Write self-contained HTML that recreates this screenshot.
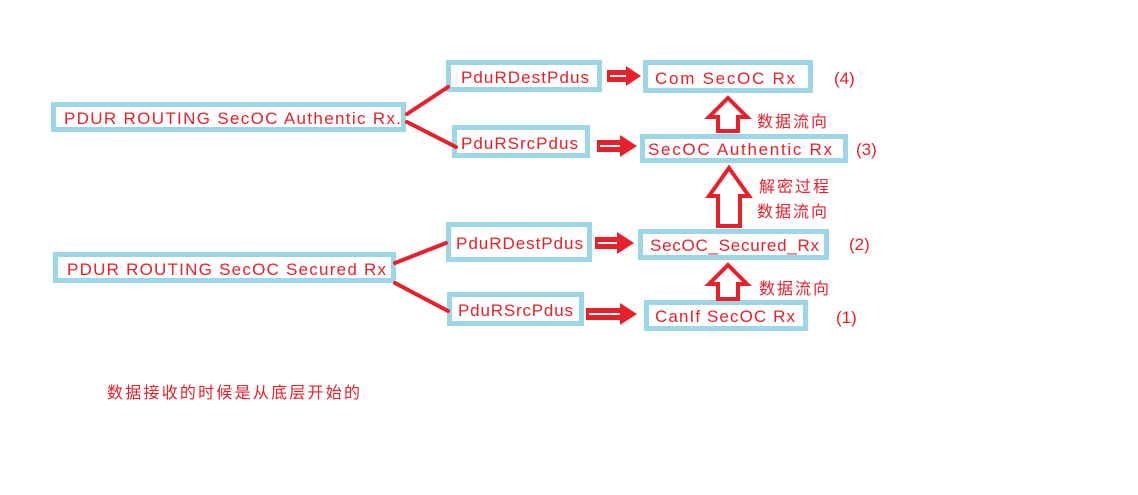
<!DOCTYPE html>
<html><head><meta charset="utf-8"><style>
html,body{margin:0;padding:0;background:#fff;}
svg text{font-family:"Liberation Sans","Noto Sans CJK SC",sans-serif;fill:#e8202a;font-size:17px;}
svg text.c{font-size:16px;}
</style></head><body>
<svg width="1138" height="490" xmlns="http://www.w3.org/2000/svg">
<g fill="#fff" stroke="#9dd6e6" stroke-width="5">
<rect x="53.5" y="104.5" width="350" height="25"/>
<rect x="448.5" y="62.5" width="151" height="27"/>
<rect x="454.5" y="127.5" width="133" height="28"/>
<rect x="645.5" y="62.5" width="165" height="28"/>
<rect x="642.5" y="136.5" width="203" height="24"/>
<rect x="640.5" y="231.5" width="186" height="26"/>
<rect x="646.5" y="302.5" width="159" height="26"/>
<rect x="55.5" y="254.5" width="338" height="26"/>
<rect x="448.5" y="224.5" width="141" height="35"/>
<rect x="449.5" y="294.5" width="132" height="29"/>
</g>
<g stroke="#e8202a" stroke-width="4" stroke-linecap="round">
<line x1="407" y1="114" x2="448" y2="87"/>
<line x1="407" y1="122" x2="456" y2="147"/>
<line x1="395" y1="263" x2="446" y2="243"/>
<line x1="395" y1="283" x2="448" y2="311"/>
</g>
<g fill="#e8202a">
<polygon points="607,70 626,70 626,66 641,76 626,86 626,82 607,82"/>
<polygon points="597,140 620,140 620,135 637,146 620,157 620,152 597,152"/>
<polygon points="595,237 617,237 617,232 634,243 617,254 617,249 595,249"/>
<polygon points="586,308 620,308 620,303 637,314 620,325 620,320 586,320"/>
</g>
<g stroke="#fff" stroke-width="2">
<line x1="610" y1="76" x2="626" y2="76"/>
<line x1="600" y1="146" x2="620" y2="146"/>
<line x1="598" y1="243" x2="617" y2="243"/>
<line x1="589" y1="314" x2="620" y2="314"/>
</g>
<g fill="#fff" stroke="#e8202a" stroke-width="4" stroke-linejoin="miter">
<polygon points="728,98 747,117 738,117 738,131 718,131 718,117 709,117"/>
<polygon points="729,168 749,196 740,196 740,226 718,226 718,196 709,196"/>
<polygon points="728,265 747,284 738,284 738,299 718,299 718,284 709,284"/>
</g>
<text x="64" y="124" textLength="337" lengthAdjust="spacing">PDUR  ROUTING  SecOC  Authentic  Rx.</text>
<text x="461" y="83" textLength="128" lengthAdjust="spacing">PduRDestPdus</text>
<text x="461" y="149" textLength="117" lengthAdjust="spacing">PduRSrcPdus</text>
<text x="655" y="84" textLength="140" lengthAdjust="spacing">Com  SecOC  Rx</text>
<text x="834" y="84">(4)</text>
<text x="648" y="155" textLength="184" lengthAdjust="spacing">SecOC  Authentic  Rx</text>
<text x="856" y="155">(3)</text>
<text x="650" y="251" textLength="169" lengthAdjust="spacing">SecOC_Secured_Rx</text>
<text x="849" y="250">(2)</text>
<text x="655" y="322" textLength="140" lengthAdjust="spacing">CanIf  SecOC  Rx</text>
<text x="836" y="323">(1)</text>
<text x="67" y="275" textLength="319" lengthAdjust="spacing">PDUR  ROUTING  SecOC  Secured  Rx</text>
<text x="456" y="249" textLength="127" lengthAdjust="spacing">PduRDestPdus</text>
<text x="458" y="316" textLength="115" lengthAdjust="spacing">PduRSrcPdus</text>
<text class="c" x="757" y="127" textLength="70">数据流向</text>
<text class="c" x="759" y="192" textLength="70">解密过程</text>
<text class="c" x="757" y="217" textLength="70">数据流向</text>
<text class="c" x="759" y="294" textLength="70">数据流向</text>
<text class="c" x="107" y="398" textLength="253">数据接收的时候是从底层开始的</text>
</svg>
</body></html>
